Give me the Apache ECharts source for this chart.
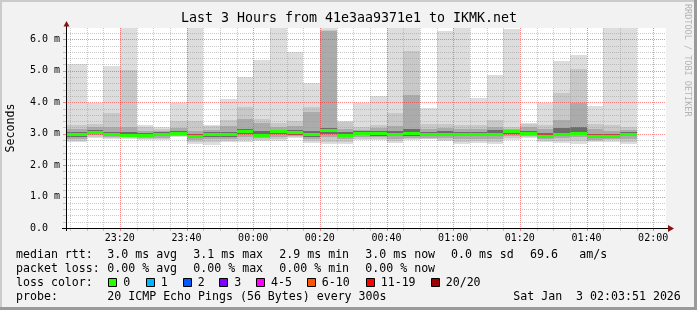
<!DOCTYPE html>
<html>
<head>
<meta charset="utf-8">
<script src="https://cdn.jsdelivr.net/npm/echarts/dist/echarts.min.js"></script>
<style>
html,body{margin:0;padding:0;background:#f2f2f2;}
#c{width:697px;height:310px;}
</style>
</head>
<body>
<div id="c"></div>
<script>
// ---- data ----
const slotTimes = ['23:00','23:05','23:10','23:15','23:20','23:25','23:30','23:35','23:40','23:45','23:50','23:55',
  '00:00','00:05','00:10','00:15','00:20','00:25','00:30','00:35','00:40','00:45','00:50','00:55',
  '01:00','01:05','01:10','01:15','01:20','01:25','01:30','01:35','01:40','01:45','01:50'];
const maxV  = [5.20,5.20,3.96,5.15,6.60,3.27,3.20,3.96,6.60,3.27,4.11,4.81,5.34,6.60,5.59,4.62,6.60,3.40,3.96,4.20,6.60,6.60,3.81,6.26,6.60,4.12,4.86,6.32,3.35,3.98,5.32,5.51,3.88,6.60,6.60];
const hi1   = [3.28,3.28,3.30,3.67,5.02,3.22,3.15,3.40,3.41,3.25,3.44,3.84,3.46,3.35,3.41,3.84,6.30,3.37,3.20,3.29,3.65,5.63,3.30,3.30,3.27,3.27,3.43,3.20,3.30,3.29,4.30,5.05,3.30,3.26,3.22];
const hi2   = [3.16,3.16,3.20,3.22,3.22,3.10,3.10,3.18,3.10,3.12,3.25,3.47,3.35,3.20,3.25,3.70,6.26,3.15,3.12,3.18,3.25,4.23,3.15,3.18,3.15,3.15,3.20,3.15,3.20,3.15,3.43,3.96,3.15,3.10,3.12];
const hi3   = [3.06,3.06,3.12,3.06,3.04,3.02,3.05,3.08,3.00,3.04,3.06,3.15,3.08,3.12,3.12,3.08,3.18,3.04,3.07,3.08,3.08,3.15,3.05,3.07,3.06,3.06,3.12,3.12,3.08,3.02,3.18,3.20,3.00,3.00,3.06];
const median= [2.99,2.99,3.06,3.00,2.96,2.95,2.98,3.03,2.93,2.98,2.98,3.07,2.96,3.08,3.05,2.98,3.13,2.97,3.02,3.01,2.99,3.01,2.99,3.00,2.99,2.99,2.99,3.09,3.03,2.93,2.98,3.03,2.93,2.93,3.00];
const lo3   = [2.89,2.89,3.00,2.94,2.91,2.90,2.92,2.98,2.86,2.90,2.90,2.98,2.90,2.98,2.97,2.90,3.00,2.90,2.95,2.94,2.92,2.93,2.92,2.93,2.92,2.92,2.92,3.00,2.96,2.86,2.92,2.96,2.86,2.88,2.92];
const lo2   = [2.84,2.84,2.95,2.90,2.88,2.86,2.87,2.94,2.80,2.82,2.84,2.90,2.86,2.90,2.92,2.84,2.88,2.82,2.88,2.88,2.84,2.86,2.87,2.86,2.84,2.84,2.84,2.92,2.92,2.82,2.86,2.88,2.80,2.84,2.82];
const lo1   = [2.78,2.78,2.90,2.87,2.85,2.83,2.83,2.91,2.73,2.72,2.78,2.80,2.80,2.82,2.88,2.76,2.75,2.72,2.82,2.83,2.76,2.82,2.84,2.80,2.74,2.76,2.74,2.85,2.88,2.76,2.78,2.78,2.76,2.79,2.74];
const minV  = [2.72,2.72,2.85,2.83,2.82,2.80,2.80,2.88,2.67,2.63,2.74,2.74,2.77,2.76,2.86,2.71,2.67,2.67,2.80,2.80,2.71,2.80,2.82,2.77,2.67,2.71,2.66,2.80,2.86,2.72,2.71,2.67,2.74,2.74,2.67];
const slotMinutes = 5;
const xStart = '23:03:51', xEnd = '02:03:51';
const xTickLabels = ['23:20','23:40','00:00','00:20','00:40','01:00','01:20','01:40','02:00'];
const yTickValues = [0,1,2,3,4,5,6];
const yTickLabels = ['0.0','1.0 m','2.0 m','3.0 m','4.0 m','5.0 m','6.0 m'];
const yMax = 6.36;
const title = 'Last 3 Hours from 41e3aa9371e1 to IKMK.net';
const rttStats = ['3.0 ms avg','3.1 ms max','2.9 ms min','3.0 ms now','0.0 ms sd','69.6','am/s'];
const lossStats = ['0.00 % avg','0.00 % max','0.00 % min','0.00 % now'];
const lossLabels = ['0','1','2','3','4-5','6-10','11-19','20/20'];
const lossColors = ['#26ff00','#00b8ff','#0059ff','#7e00ff','#ff00ff','#ff5500','#ff0000','#a10000'];
const probeText = '20 ICMP Echo Pings (56 Bytes) every 300s';
const dateText = 'Sat Jan  3 02:03:51 2026';

// ---- helpers ----
function toMin(s){
  const p = s.split(':').map(Number);
  let m = p[0]*60 + p[1] + (p[2]||0)/60;
  if (p[0] >= 12) m -= 1440;
  return m;
}
const xMin = toMin(xStart), xMax = toMin(xEnd);
const xTickValues = xTickLabels.map(toMin);
const labelOf = {}; xTickValues.forEach((v,i)=>labelOf[Math.round(v)] = xTickLabels[i]);
const yLabelOf = {}; yTickValues.forEach((v,i)=>yLabelOf[v] = yTickLabels[i]);

const bandColors = ['#dddddd','#c8c8c8','#ababab','#6c6c6c'];
const bands = [[minV,maxV],[lo1,hi1],[lo2,hi2],[lo3,hi3]];
const smokeData = [];
bands.forEach((b, lvl) => {
  slotTimes.forEach((t, i) => {
    const s = toMin(t);
    smokeData.push([s, s + slotMinutes, b[0][i], b[1][i], lvl]);
  });
});
const medianData = slotTimes.map((t,i)=>{ const s = toMin(t); return [s, s + slotMinutes, median[i]]; });

// grid line positions (minor every 5 min / 0.2 m, major every 20 min / 1 m)
const vGrid = [];
for (let m = Math.ceil(xMin/5)*5; m <= xMax; m += 5) vGrid.push([m, (Math.abs(Math.round(m)) % 20 === 0) ? 1 : 0]);
const hGrid = [];
for (let k = 1; k * 0.2 <= yMax; k++) hGrid.push([+(k*0.2).toFixed(2), (k % 5 === 0) ? 1 : 0]);

const FONT = '"DejaVu Sans Mono", monospace';
const MINOR = 'rgba(150,150,150,0.5)';
const MAJOR = 'rgba(255,40,40,0.55)';
const chart = echarts.init(document.getElementById('c'), null, {renderer:'canvas'});

function clipRect(r, cs){
  return echarts.graphic.clipRectByRect(r, {x: cs.x, y: cs.y, width: cs.width, height: cs.height});
}

function renderSmoke(params, api){
  const p0 = api.coord([api.value(0), api.value(3)]);
  const p1 = api.coord([api.value(1), api.value(2)]);
  const x0 = Math.round(p0[0]), x1 = Math.round(p1[0]);
  const y0 = Math.round(p0[1]), y1 = Math.round(p1[1]);
  const r = clipRect({x: x0, y: y0, width: x1 - x0, height: Math.max(1, y1 - y0)}, params.coordSys);
  if (!r) return null;
  return {type:'rect', shape: r, style: {fill: bandColors[api.value(4)]}};
}
function renderMedian(params, api){
  const p0 = api.coord([api.value(0), api.value(2)]);
  const p1 = api.coord([api.value(1), api.value(2)]);
  const x0 = Math.round(p0[0]), x1 = Math.round(p1[0]);
  const yc = Math.round(p0[1]);
  const r = clipRect({x: x0, y: yc - 1, width: x1 - x0, height: 3}, params.coordSys);
  if (!r) return null;
  return {type:'rect', shape: r, style: {fill: lossColors[0]}};
}
function renderVGrid(params, api){
  const p = api.coord([api.value(0), 0]);
  const cs = params.coordSys;
  const x = Math.round(p[0]) + 0.5;
  const col = api.value(1) === 1 ? MAJOR : MINOR;
  return {type:'group', children:[
    {type:'line', shape:{x1:x, y1:cs.y, x2:x, y2:cs.y+cs.height}, style:{stroke:col, lineWidth:1, lineDash:[1,1]}},
    {type:'line', shape:{x1:x, y1:cs.y+cs.height, x2:x, y2:cs.y+cs.height+3}, style:{stroke:col, lineWidth:1}}
  ]};
}
function renderHGrid(params, api){
  const p = api.coord([xMin, api.value(0)]);
  const cs = params.coordSys;
  const y = Math.round(p[1]) + 0.5;
  const col = api.value(1) === 1 ? MAJOR : MINOR;
  return {type:'group', children:[
    {type:'line', shape:{x1:cs.x, y1:y, x2:cs.x+cs.width, y2:y}, style:{stroke:col, lineWidth:1, lineDash:[1,1]}},
    {type:'line', shape:{x1:cs.x-3, y1:y, x2:cs.x, y2:y}, style:{stroke:col, lineWidth:1}}
  ]};
}

// legend texts
const gx = [107.3, 193.3, 279.3, 365.3, 451, 530, 579.3];
const graphics = [];
function txt(x, y, s, extra){
  graphics.push(Object.assign({type:'text', x:x, y:y, silent:true,
    style:{text:s, font:'11.6px ' + FONT, fill:'#000', textAlign:'left', textVerticalAlign:'middle'}}, extra||{}));
}
txt(16, 254.5, 'median rtt:');
rttStats.forEach((s,i)=>txt(gx[i], 254.5, s));
txt(16, 268.5, 'packet loss:');
lossStats.forEach((s,i)=>txt(gx[i], 268.5, s));
txt(16, 282.5, 'loss color:');
const boxX = [108.3, 145.7, 182.7, 219.3, 256, 306.7, 365.7, 430.7];
lossLabels.forEach((s,i)=>{
  graphics.push({type:'rect', silent:true, shape:{x:Math.round(boxX[i])+0.5, y:278.5, width:8, height:8},
    style:{fill:lossColors[i], stroke:'#000', lineWidth:1}});
  txt(boxX[i]+15, 282.5, s);
});
txt(16, 296.5, 'probe:');
txt(107.3, 296.5, probeText);
txt(513.3, 296.5, dateText);
// title
graphics.push({type:'text', x:349, y:19, silent:true, style:{text:title, font:'13.3px ' + FONT, fill:'#000', textAlign:'center', textVerticalAlign:'middle'}});
// y-axis name
graphics.push({type:'text', x:11, y:128, rotation:Math.PI/2, silent:true, style:{text:'Seconds', font:'11.6px ' + FONT, fill:'#000', textAlign:'center', textVerticalAlign:'middle'}});
// watermark
graphics.push({type:'text', x:687.5, y:4, rotation:-Math.PI/2, silent:true, style:{text:'RRDTOOL / TOBI OETIKER', font:'8.5px ' + FONT, fill:'#b4b4b4', textAlign:'left', textVerticalAlign:'middle'}});
// frame shading
graphics.push({type:'rect', silent:true, shape:{x:0,y:0,width:697,height:2}, style:{fill:'#cbcbcb'}});
graphics.push({type:'rect', silent:true, shape:{x:0,y:0,width:2,height:310}, style:{fill:'#cbcbcb'}});
graphics.push({type:'rect', silent:true, shape:{x:0,y:307,width:697,height:3}, style:{fill:'#9a9a9a'}});
graphics.push({type:'rect', silent:true, shape:{x:694,y:0,width:3,height:310}, style:{fill:'#9a9a9a'}});
// axis lines and arrows
graphics.push({type:'line', silent:true, z:10, shape:{x1:62, y1:228.5, x2:669, y2:228.5}, style:{stroke:'#000', lineWidth:1}});
graphics.push({type:'line', silent:true, z:10, shape:{x1:66.5, y1:231, x2:66.5, y2:25}, style:{stroke:'#000', lineWidth:1}});
graphics.push({type:'polygon', silent:true, z:10, shape:{points:[[668,225],[674,228.5],[668,232]]}, style:{fill:'#8b1010'}});
graphics.push({type:'polygon', silent:true, z:10, shape:{points:[[63.5,26.5],[66.5,21],[69.5,26.5]]}, style:{fill:'#8b1010'}});

const option = {
  animation: false,
  backgroundColor: '#f2f2f2',
  grid: {left:66, top:28, width:600, height:200, show:true, backgroundColor:'#ffffff', borderWidth:0},
  xAxis: {
    type:'value', min:xMin, max:xMax,
    axisLine:{show:false}, axisTick:{show:false}, splitLine:{show:false},
    axisLabel:{customValues:xTickValues,
      formatter:(v)=>labelOf[Math.round(v)] || '',
      fontFamily:'DejaVu Sans Mono', fontSize:10, color:'#000', margin:5}
  },
  yAxis: {
    type:'value', min:0, max:yMax,
    axisLine:{show:false}, axisTick:{show:false}, splitLine:{show:false},
    axisLabel:{customValues:yTickValues, formatter:(v)=>yLabelOf[Math.round(v)] || '',
      fontFamily:'DejaVu Sans Mono', fontSize:10, color:'#000', align:'left', margin:36}
  },
  series: [
    {type:'custom', name:'smoke', renderItem:renderSmoke, data:smokeData, encode:{x:[0,1], y:[2,3]}, z:2, silent:true},
    {type:'custom', name:'vgrid', renderItem:renderVGrid, data:vGrid, encode:{x:0}, z:3, silent:true},
    {type:'custom', name:'hgrid', renderItem:renderHGrid, data:hGrid, encode:{y:0}, z:3, silent:true},
    {type:'custom', name:'median', renderItem:renderMedian, data:medianData, encode:{x:[0,1], y:2}, z:4, silent:true}
  ],
  graphic: graphics
};
chart.setOption(option);
</script>
</body>
</html>
